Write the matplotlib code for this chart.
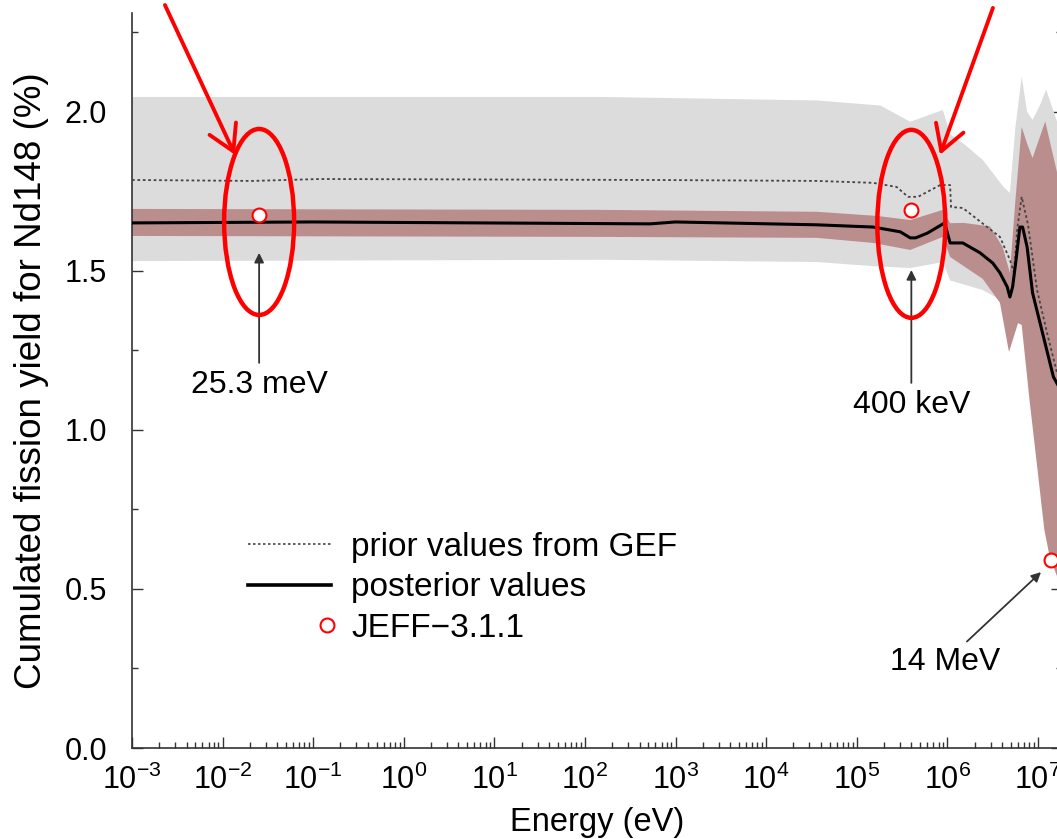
import numpy as np
import matplotlib
matplotlib.use('Agg')
import matplotlib.pyplot as plt
from matplotlib.lines import Line2D
from matplotlib.patches import Ellipse
from matplotlib.legend_handler import HandlerLine2D
from matplotlib.ticker import LogLocator, MultipleLocator, FormatStrFormatter

plt.rcParams['font.family'] = ['Liberation Sans', 'DejaVu Sans']
plt.rcParams['mathtext.fontset'] = 'custom'
plt.rcParams['mathtext.rm'] = 'Liberation Sans'
plt.rcParams['mathtext.it'] = 'Liberation Sans'

# prior values from GEF (dotted), log10(E/eV)
prior_logE = [-3.0, -1.67, -0.93, 2.72, 4.56, 5.18, 5.44, 5.565, 5.675, 5.92, 6.03, 6.04,
              6.17, 6.44, 6.58, 6.69, 6.735, 6.77, 6.82, 6.89, 6.99, 7.10, 7.21, 7.30]
prior_val = [1.786, 1.783, 1.789, 1.786, 1.783, 1.777, 1.764, 1.733, 1.733, 1.770, 1.770, 1.701,
             1.698, 1.638, 1.607, 1.535, 1.494, 1.63, 1.733, 1.645, 1.44, 1.305, 1.18, 1.13]

# posterior values (solid)
post_logE = [-3.0, -1.0, 2.72, 3.0, 4.56, 5.18, 5.48, 5.59, 5.65, 5.78, 5.97, 6.03, 6.17, 6.36,
             6.50, 6.58, 6.66, 6.69, 6.72, 6.76, 6.80, 6.83, 6.88, 6.94, 7.05, 7.17, 7.30]
post_val = [1.651, 1.654, 1.648, 1.654, 1.645, 1.638, 1.623, 1.604, 1.604, 1.619, 1.651, 1.588,
            1.588, 1.557, 1.525, 1.494, 1.450, 1.418, 1.450, 1.54, 1.638, 1.638, 1.575, 1.431,
            1.305, 1.167, 1.10]

# prior uncertainty band (grey)
gray_hi_logE = [-3.0, 2.2, 4.56, 5.26, 5.59, 5.95, 6.03, 6.18, 6.39, 6.62, 6.69, 6.75, 6.82,
                6.88, 6.94, 7.02, 7.09, 7.21, 7.30]
gray_hi = [2.047, 2.047, 2.036, 2.02, 1.969, 2.006, 1.93, 1.90, 1.849, 1.764, 1.745, 1.95, 2.11,
           2.00, 1.975, 2.02, 2.07, 1.97, 1.95]
gray_lo_logE = [-3.0, 2.2, 4.56, 5.18, 5.59, 5.95, 6.03, 6.39, 6.58, 6.69, 6.78, 6.85, 6.94,
                7.02, 7.09, 7.21, 7.30]
gray_lo = [1.531, 1.535, 1.528, 1.515, 1.509, 1.528, 1.47, 1.44, 1.41, 1.32, 1.37, 1.36, 1.10,
           0.90, 0.75, 0.60, 0.55]

# posterior uncertainty band (brown)
brown_hi_logE = [-3.0, 2.17, 4.56, 5.22, 5.59, 5.95, 6.03, 6.18, 6.47, 6.61, 6.69, 6.75, 6.82,
                 6.88, 6.94, 7.08, 7.21, 7.30]
brown_hi = [1.695, 1.692, 1.686, 1.673, 1.66, 1.692, 1.65, 1.651, 1.64, 1.575, 1.494, 1.72,
            1.953, 1.90, 1.855, 1.97, 1.81, 1.75]
brown_lo_logE = [-3.0, 2.17, 4.56, 5.18, 5.59, 5.95, 6.03, 6.39, 6.58, 6.68, 6.78, 6.82, 6.91,
                 6.99, 7.07, 7.13, 7.21, 7.30]
brown_lo = [1.61, 1.607, 1.604, 1.588, 1.566, 1.607, 1.544, 1.475, 1.40, 1.245, 1.336, 1.33,
            1.085, 0.887, 0.686, 0.60, 0.54, 0.50]

# JEFF-3.1.1 evaluated values
jeff_E = [0.0253, 4.0e5, 1.4e7]
jeff_val = [1.676, 1.692, 0.591]

# annotations: label, text position (E, y), arrow tip (E, y)
notes = [('25.3 meV', (0.0253, 1.142), (0.0253, 1.557)),
         ('400 keV', (4.0e5, 1.079), (4.0e5, 1.503)),
         ('14 MeV', (9.4e5, 0.27), (1.08e7, 0.553))]


class RightMarker(HandlerLine2D):
    # single marker sitting at the right end of the handle box
    def get_xdata(self, legend, xdescent, ydescent, width, height, fontsize):
        xr = np.array([-xdescent + width - 0.05 * width])
        return xr, xr


fig = plt.figure(figsize=(10.57, 8.39), dpi=100, facecolor='w')
ax = fig.add_axes([132 / 1057, 91 / 839, 930 / 1057, 735 / 839])
ax.set_xscale('log')
ax.set_xlim(1e-3, 10 ** 7.265)
ax.set_ylim(0, 2.311)
ax.set_axisbelow(True)

E = lambda v: 10 ** np.asarray(v)

ax.fill(np.concatenate([E(gray_hi_logE), E(gray_lo_logE)[::-1]]),
        np.concatenate([gray_hi, gray_lo[::-1]]), color='#dcdcdc', lw=0, zorder=1)
ax.fill(np.concatenate([E(brown_hi_logE), E(brown_lo_logE)[::-1]]),
        np.concatenate([brown_hi, brown_lo[::-1]]), color='#bb8e8e', lw=0, zorder=1.1)

ax.plot(E(prior_logE), prior_val, color='#444444', lw=1.3, ls=(0, (1.5, 1.5)), zorder=3)
ax.plot(E(post_logE), post_val, color='black', lw=2.2, zorder=4)
ax.plot(jeff_E, jeff_val, 'o', mfc='white', mec='red', ms=10, mew=1.5, zorder=5, clip_on=False)

for label, txt, tip in notes:
    ax.annotate(label, xy=tip, xytext=txt, ha='center', va='center', fontsize=23,
                arrowprops=dict(arrowstyle='-|>', color='#333333', lw=1.3,
                                mutation_scale=14, shrinkA=3, shrinkB=0))

# red ellipses around 25.3 meV and 400 keV
to_axes = ax.transAxes.inverted()
for cE, cy, w_px, h_px in [(0.0253, 1.654, 70, 186), (4.0e5, 1.648, 68, 188)]:
    cx_a, cy_a = to_axes.transform(ax.transData.transform((cE, cy)))
    ax.add_patch(Ellipse((cx_a, cy_a), w_px / 930, h_px / 735, transform=ax.transAxes,
                         fill=False, ec='red', lw=3.2, zorder=6))

# red pointing arrows
for tail, tip in [((2.31e-3, 2.336), (0.0137, 1.865)), ((3.18e6, 2.327), (8.28e5, 1.865))]:
    ax.annotate('', xy=tip, xytext=tail, annotation_clip=False,
                arrowprops=dict(arrowstyle='->, head_length=0.6, head_width=0.35',
                                color='red', lw=2.8, mutation_scale=30, shrinkA=0, shrinkB=0))

ax.xaxis.set_major_locator(LogLocator(base=10, numticks=30))
ax.xaxis.set_minor_locator(LogLocator(base=10, subs=np.arange(2, 10), numticks=200))
ax.yaxis.set_major_locator(MultipleLocator(0.5))
ax.yaxis.set_minor_locator(MultipleLocator(0.25))
ax.yaxis.set_major_formatter(FormatStrFormatter('%.1f'))
ax.tick_params(which='both', direction='in', top=False, right=True, color='#333333', width=1)
ax.tick_params(which='major', length=8)
ax.tick_params(which='minor', length=4.5)
ax.tick_params(axis='x', labelsize=22, pad=12)
ax.tick_params(axis='y', labelsize=22, pad=18)
for s in ['left', 'bottom', 'right']:
    ax.spines[s].set_color('#333333')
    ax.spines[s].set_linewidth(1.2)
ax.spines['top'].set_visible(False)

ax.set_xlabel('Energy (eV)', fontsize=23.5, labelpad=8)
ax.set_ylabel('Cumulated fission yield for Nd148 (%)', fontsize=26.5, labelpad=11)

handles = [Line2D([], [], color='#444444', lw=1.2, ls=(0, (1.5, 1.5))),
           Line2D([], [], color='black', lw=2.6),
           Line2D([], [], ls='', marker='o', mfc='white', mec='red', ms=10, mew=1.5)]
ax.legend(handles, ['prior values from GEF', 'posterior values', 'JEFF\u22123.1.1'],
          loc='upper left', bbox_to_anchor=(248 / 1057, 1 - 532 / 839),
          bbox_transform=fig.transFigure, frameon=False, fontsize=24, handlelength=2.5,
          handletextpad=0.6, labelspacing=0.28, borderpad=0, borderaxespad=0,
          handler_map={handles[2]: RightMarker(numpoints=2)})

fig.savefig('out.png', dpi=100)
